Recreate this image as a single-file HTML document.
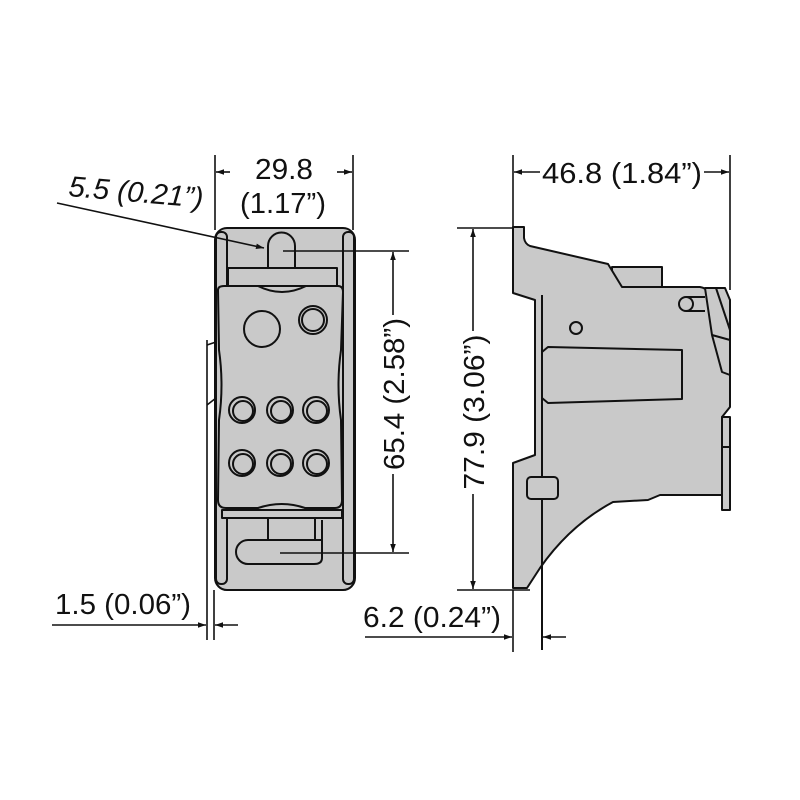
<!DOCTYPE html>
<html><head><meta charset="utf-8"><style>
html,body{margin:0;padding:0;background:#fff;}
svg{display:block;}
text{font-family:"Liberation Sans",sans-serif;font-size:29px;fill:#111;}
</style></head><body>
<svg width="800" height="800" viewBox="0 0 800 800" xmlns="http://www.w3.org/2000/svg">
<defs>
<marker id="a" viewBox="0 0 10 10" refX="10" refY="5" markerWidth="10" markerHeight="8" orient="auto-start-reverse" markerUnits="userSpaceOnUse"><path d="M0,1.5 L10,5 L0,8.5 Z" fill="#111"/></marker>
</defs>
<g stroke="#111" stroke-width="2" fill="#c9c9c9" stroke-linejoin="round">
<!-- LEFT VIEW -->
<rect x="215" y="228" width="140" height="362" rx="12"/>
<rect x="216" y="232" width="11" height="352" rx="5"/>
<rect x="343" y="232" width="11" height="352" rx="5"/>
<path d="M268,268 V246 a13.5,13.5 0 0 1 27,0 V268"/>
<rect x="228" y="268" width="109" height="18"/>
<path d="M218,290 Q218,286 224,286 L258,286 Q282,298 306,286 L338,286 Q343,286 343,292 L341,350 Q336,385 341,420 L342,500 Q342,508 335,508 L305,508 Q282,500 258,508 L226,508 Q218,508 218,500 L219,420 Q224,385 219,350 Z"/>
<circle cx="262" cy="329" r="18"/>
<circle cx="313" cy="320" r="14"/>
<circle cx="313" cy="320" r="11"/>
<g>
<circle cx="242" cy="410" r="13"/><circle cx="243" cy="411" r="10"/>
<circle cx="280" cy="410" r="13"/><circle cx="281" cy="411" r="10"/>
<circle cx="316" cy="410" r="13"/><circle cx="317" cy="411" r="10"/>
<circle cx="242" cy="463" r="13"/><circle cx="243" cy="464" r="10"/>
<circle cx="280" cy="463" r="13"/><circle cx="281" cy="464" r="10"/>
<circle cx="316" cy="463" r="13"/><circle cx="317" cy="464" r="10"/>
</g>
<rect x="222" y="510" width="120" height="8"/>
<path d="M268,518 V540 H315 V518" fill="none"/>
<path d="M322,520 V558 Q322,564 314,564 H248 a12,12 0 0 1 0,-24 H322" fill="none"/>
<!-- RIGHT VIEW -->
<rect x="612" y="267" width="50" height="22"/>
<path d="M513,227 H524 V238 Q525,244 530,246 L608,264 L622,287 H700 Q706,288 708,292 L730,300 V407 L722,417 V495 H660 L648,500 L613,502 Q570,525 540,568 L527,588 H513 V463 L535,455 V300 L513,293 Z"/>
<line x1="542" y1="295" x2="542" y2="650"/>
<path d="M548,347 L682,350 V399 L548,403 L542,398 V352 Z"/>
<rect x="527" y="477" width="31" height="22" rx="4"/>
<circle cx="576" cy="328" r="6"/>
<path d="M686,297 H705 M686,311 H705" fill="none"/>
<circle cx="686" cy="304" r="7"/>
<path d="M705,288 L725,288 L730,300 L730,375 L722,372 L712,335 Z"/>
<path d="M716,288 L730,330 M712,335 L730,340" fill="none"/>
<rect x="722" y="417" width="8" height="93"/>
<line x1="722" y1="447" x2="730" y2="447"/>
</g>
<g stroke="#111" stroke-width="1.6" fill="none">
<line x1="215" y1="155" x2="215" y2="230"/>
<line x1="353" y1="155" x2="353" y2="230"/>
<line x1="230" y1="172" x2="216" y2="172" marker-end="url(#a)"/>
<line x1="337" y1="172" x2="352" y2="172" marker-end="url(#a)"/>
<line x1="57" y1="203" x2="264" y2="248" marker-end="url(#a)"/>
<line x1="283" y1="251" x2="409" y2="251"/>
<line x1="280" y1="553" x2="409" y2="553"/>
<line x1="393" y1="315" x2="393" y2="252" marker-end="url(#a)"/>
<line x1="393" y1="474" x2="393" y2="552" marker-end="url(#a)"/>
<line x1="457" y1="228" x2="513" y2="228"/>
<line x1="457" y1="590" x2="530" y2="590"/>
<line x1="473" y1="331" x2="473" y2="229" marker-end="url(#a)"/>
<line x1="473" y1="494" x2="473" y2="589" marker-end="url(#a)"/>
<line x1="513" y1="155" x2="513" y2="230"/>
<line x1="730" y1="155" x2="730" y2="290"/>
<line x1="540" y1="172" x2="514" y2="172" marker-end="url(#a)"/>
<line x1="704" y1="172" x2="729" y2="172" marker-end="url(#a)"/>
<line x1="207" y1="340" x2="207" y2="640"/>
<line x1="214" y1="590" x2="214" y2="640"/>
<line x1="52" y1="625" x2="206" y2="625" marker-end="url(#a)"/>
<line x1="238" y1="625" x2="215" y2="625" marker-end="url(#a)"/>
<path d="M207,345 L216,342 M207,405 L216,398"/>
<line x1="513" y1="590" x2="513" y2="652"/>
<line x1="365" y1="637" x2="512" y2="637" marker-end="url(#a)"/>
<line x1="566" y1="637" x2="543" y2="637" marker-end="url(#a)"/>
</g>
<text x="255" y="179" textLength="58" lengthAdjust="spacingAndGlyphs">29.8</text>
<text x="240" y="213" textLength="86" lengthAdjust="spacingAndGlyphs">(1.17”)</text>
<text x="68" y="196" transform="rotate(5 68 196)" font-style="italic" textLength="135" lengthAdjust="spacingAndGlyphs">5.5 (0.21”)</text>
<text transform="translate(404 394) rotate(-90)" text-anchor="middle" textLength="152" lengthAdjust="spacingAndGlyphs">65.4 (2.58”)</text>
<text transform="translate(484 412) rotate(-90)" text-anchor="middle" textLength="155" lengthAdjust="spacingAndGlyphs">77.9 (3.06”)</text>
<text x="542" y="183" textLength="160" lengthAdjust="spacingAndGlyphs">46.8 (1.84”)</text>
<text x="55" y="614" textLength="136" lengthAdjust="spacingAndGlyphs">1.5 (0.06”)</text>
<text x="363" y="627" textLength="138" lengthAdjust="spacingAndGlyphs">6.2 (0.24”)</text>
</svg>
</body></html>
